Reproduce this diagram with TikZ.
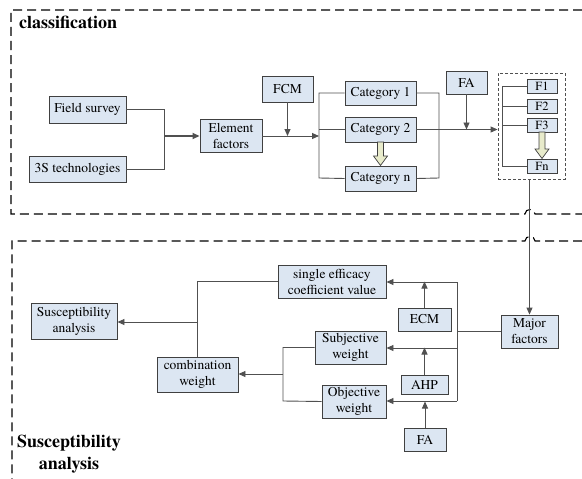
\documentclass[tikz,border=0pt]{standalone}
\usepackage{fontspec}
\setmainfont{TeX Gyre Termes}
\usetikzlibrary{arrows.meta}
\definecolor{boxfill}{HTML}{DCE6F2}
\definecolor{boxline}{HTML}{404040}
\definecolor{conn}{HTML}{505050}
\definecolor{hollowfill}{HTML}{E8EBCB}
\begin{document}
\begin{tikzpicture}[x=1pt,y=-1pt,
  bx/.style={draw=boxline,fill=boxfill,line width=0.9pt,inner sep=0pt,align=center,
    font=\fontsize{13.5}{16}\selectfont,minimum width=#1},
  bx/.default=40pt,
  fb/.style={draw=boxline,fill=boxfill,line width=0.9pt,inner sep=0pt,align=center,
    font=\fontsize{12.5}{14}\selectfont,minimum width=30pt,minimum height=14pt},
  ln/.style={draw=conn,line width=0.9pt},
  arr/.style={ln,-{Triangle[length=7pt,width=6pt]}},
  frame/.style={draw=black,line width=1.1pt,dash pattern=on 9pt off 5pt},
  lbl/.style={font=\bfseries\fontsize{18}{22}\selectfont,align=center,inner sep=0pt},
  hollow/.style={draw=boxline,fill=hollowfill,line width=0.7pt}]
\useasboundingbox (0,0) rectangle (582,479);
% frames
\draw[frame] (582,10) -- (11,10) -- (11,214) -- (525,214)
  .. controls (525,208) and (535,208) .. (535,214) -- (582,214);
\draw[frame] (582,241) -- (535,241) .. controls (535,235) and (525,235) .. (525,241)
  -- (12,241) -- (12,479);
\node[lbl,anchor=base west] (tcls) at (19,28) {classification};
\node[lbl] (tsus) at (69,454) {Susceptibility\\analysis};
% top nodes
\node[bx=77pt,minimum height=27pt] (field) at (87.5,109.5) {Field survey};
\node[bx=97pt,minimum height=26pt] (s3) at (77.5,169) {3S technologies};
\node[bx=62pt,minimum height=33pt] (elem) at (231,135.5) {Element\\factors};
\node[bx=51pt,minimum height=26pt] (fcm) at (287.5,89) {FCM};
\node[bx=71pt,minimum height=24pt] (cat1) at (380.5,93) {Category 1};
\node[bx=71pt,minimum height=25pt] (cat2) at (380.5,129.5) {Category 2};
\node[bx=71pt,minimum height=25pt] (catn) at (380.5,178.5) {Category n};
\node[bx=41pt,minimum height=23pt] (fa1) at (466.5,82.5) {FA};
\node[draw=conn,line width=0.9pt,dash pattern=on 3pt off 2pt,minimum width=67pt,minimum height=106pt,inner sep=0pt] (fbox) at (531.5,126) {};
\node[fb] (f1) at (542,86) {F1};
\node[fb] (f2) at (542,106) {F2};
\node[fb] (f3) at (542,125) {F3};
\node[fb] (fn) at (542,166) {Fn};
% bottom nodes
\node[bx=57pt,minimum height=33pt] (major) at (529.5,331.5) {Major\\factors};
\node[bx=108pt,minimum height=33pt] (sec) at (332,281.5) {single efficacy\\coefficient value};
\node[bx=53pt,minimum height=23pt] (ecm) at (424.5,319.5) {ECM};
\node[bx=71pt,minimum height=33pt] (subj) at (350.5,347.5) {Subjective\\weight};
\node[bx=47pt,minimum height=19pt] (ahp) at (424.5,384.5) {AHP};
\node[bx=64pt,minimum height=33pt] (obj) at (354,401.5) {Objective\\weight};
\node[bx=42pt,minimum height=23pt] (fa2) at (425,439.5) {FA};
\node[bx=81pt,minimum height=35pt] (comb) at (197.5,374.5) {combination\\weight};
\node[bx=86pt,minimum height=36pt] (susc) at (74,321) {Susceptibility\\analysis};
% top connectors
\coordinate (j1) at (164,136);
\draw[ln] (field.east) -| (j1);
\draw[ln] (s3.east) -| (j1);
\draw[arr,line width=1.6pt] (j1) -- (elem.west |- j1);
\coordinate (b1) at (319,136);
\draw[arr] (elem.east |- b1) -- (b1);
\draw[arr] (fcm.south) -- (fcm.south |- b1);
\draw[ln] (cat1.west) -| (319,178) -- (catn.west);
\draw[ln] (cat2.west) -- (cat2.west -| b1);
\draw[ln] (cat1.east) -| (439,178) -- (catn.east);
\coordinate (b2) at (fbox.west |- cat2.east);
\draw[arr] (cat2.east) -- (b2);
\draw[arr] (fa1.south) -- (fa1.south |- b2);
\draw[ln] (f1.west) -| (502,166) -- (fn.west);
\draw[ln] (f2.west) -- (f2.west -| 502,0);
\draw[ln] (f3.west) -- (f3.west -| 502,0);
\draw[arr] (major.north |- fbox.south) -- (major.north);
% hollow arrows
\draw[hollow] (377.5,142) -- (383.5,142) -- (383.5,156) -- (387.5,156) -- (380.5,165.5)
  -- (373.5,156) -- (377.5,156) -- cycle;
\draw[hollow] (539,132) -- (545,132) -- (545,149) -- (549,149) -- (542,158.5)
  -- (535,149) -- (539,149) -- cycle;
% bottom connectors
\coordinate (b3) at (457,331);
\draw[ln] (major.west) -- (major.west -| b3);
\draw[ln] (457,282) -- (457,401);
\draw[arr] (457,282) -- (sec.east |- 457,282);
\draw[arr] (457,348) -- (subj.east |- 457,348);
\draw[arr] (457,401) -- (obj.east |- 457,401);
\draw[arr] (ecm.north) -- (ecm.north |- sec.east);
\draw[arr] (ahp.north) -- (ahp.north |- subj.east);
\draw[arr] (fa2.north) -- (fa2.north |- obj.east);
\draw[ln] (subj.west) -| (283,401) -- (obj.west);
\draw[arr] (283,374) -- (comb.east |- 283,374);
\draw[ln] (comb.north) |- (sec.west);
\draw[arr] (198,322) -- (susc.east |- 198,322);
\end{tikzpicture}
\end{document}
